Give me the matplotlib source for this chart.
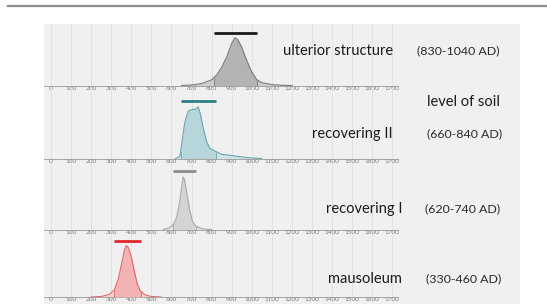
import matplotlib
matplotlib.use("Agg")
import matplotlib.pyplot as plt
from matplotlib.patches import Rectangle
from matplotlib.lines import Line2D

# ---------------- data ----------------
tick_values = list(range(0, 1800, 100))
tick_labels = [str(v) for v in tick_values]

phase_names = ["ulterior structure", "recovering II", "recovering I", "mausoleum"]
phase_dates = ["(830-1040 AD)", "(660-840 AD)", "(620-740 AD)", "(330-460 AD)"]
extra_label = "level of soil"

# relative probability curves (years AD, fraction of peak)
ulterior_x = [650, 700, 750, 800, 825, 850, 875, 900, 916, 930, 950, 975, 1000, 1025, 1050, 1100, 1150, 1200]
ulterior_y = [0.0, 0.01, 0.04, 0.12, 0.22, 0.38, 0.6, 0.88, 1.0, 0.96, 0.8, 0.52, 0.28, 0.12, 0.06, 0.02, 0.005, 0.0]

rec2_x = [620, 642, 655, 667, 684, 700, 709, 722, 733, 745, 758, 775, 791, 808, 824, 850, 874, 940, 1000, 1050]
rec2_y = [0.0, 0.04, 0.4, 0.71, 0.92, 0.94, 0.95, 0.95, 1.0, 0.84, 0.59, 0.32, 0.2, 0.16, 0.13, 0.08, 0.07, 0.035, 0.01, 0.0]

rec1_x = [560, 590, 610, 625, 640, 650, 658, 665, 675, 690, 705, 720, 740, 770, 800]
rec1_y = [0.0, 0.03, 0.1, 0.22, 0.5, 0.8, 1.0, 0.95, 0.72, 0.38, 0.15, 0.07, 0.03, 0.005, 0.0]

maus_x = [200, 250, 290, 316, 335, 350, 365, 375, 385, 400, 415, 430, 446, 470, 500, 550]
maus_y = [0.0, 0.01, 0.05, 0.14, 0.35, 0.62, 0.9, 1.0, 0.96, 0.78, 0.5, 0.25, 0.11, 0.04, 0.01, 0.0]

# highlighted ranges (bars above the curves), years AD
bar_ranges = [(811, 1027), (645, 823), (610, 724), (316, 446)]

curves = [(ulterior_x, ulterior_y), (rec2_x, rec2_y), (rec1_x, rec1_y), (maus_x, maus_y)]

# ---------------- styles / layout ----------------
W, H = 547, 304
fill_out = ["#cdcdcd", "#cfe3e7", "#e2e2e2", "#f8d0d0"]
fill_in = ["#b3b3b3", "#b6d6dc", "#d4d4d4", "#f3b2b4"]
edge_c = ["#7a7a7a", "#6aa7b2", "#a8a8a8", "#e06a6e"]
bar_c = ["#1a1a1a", "#2e7f89", "#8c8c8c", "#e2282c"]

# pixel layout: (axes top, baseline, peak, bar)
panels = [(24, 85.5, 37.7, 33.0),
          (88, 158.5, 106.7, 100.7),
          (163, 229.5, 177.0, 171.5),
          (234, 297.0, 245.5, 240.5)]
ax_left_px, ax_right_px = 43.6, 398.0
x0_px, px_per_year = 51.0, 0.2008
xmin = (ax_left_px - x0_px) / px_per_year
xmax = (ax_right_px - x0_px) / px_per_year

name_right = [393, 393, 402, 402]
name_y = [50.6, 134, 209, 279]
date_left = [417, 427, 425, 426]

font = ["Lato", "DejaVu Sans"]
bg = "#f0f0f0"

fig = plt.figure(figsize=(W / 100, H / 100), dpi=100)
fig.patch.set_facecolor("white")

# grey panel background
fig.patches.append(Rectangle((ax_left_px / W, 0), (520 - ax_left_px) / W, 1 - 24 / H,
                             transform=fig.transFigure, facecolor=bg, edgecolor="none", zorder=-10))
# top rule
fig.lines.append(Line2D([8 / W, 1.0], [1 - 6 / H, 1 - 6 / H], transform=fig.transFigure,
                        color="#8c8c8c", lw=1.6, zorder=-5))


def yat(xs, ys, v):
    for k in range(len(xs) - 1):
        if xs[k] <= v <= xs[k + 1]:
            t = (v - xs[k]) / (xs[k + 1] - xs[k])
            return ys[k] + t * (ys[k + 1] - ys[k])
    return 0.0


for i, (top, base, peak, bar) in enumerate(panels):
    ax = fig.add_axes([ax_left_px / W, 1 - base / H, (ax_right_px - ax_left_px) / W, (base - top) / H])
    ax.set_facecolor("none")
    ax.set_zorder(1)
    ymax = (base - top) / (base - peak)
    ax.set_xlim(xmin, xmax)
    ax.set_ylim(0, ymax)
    for v in tick_values:
        ax.axvline(v, color="#e2e2e2", lw=0.7, zorder=1)
    xs, ys = curves[i]
    ax.fill_between(xs, ys, 0, color=fill_out[i], lw=0, zorder=2)
    lo, hi = bar_ranges[i]
    xin = [lo] + [x for x in xs if lo < x < hi] + [hi]
    yin = [yat(xs, ys, x) for x in xin]
    ax.fill_between(xin, yin, 0, color=fill_in[i], lw=0, zorder=3)
    ax.vlines([lo, hi], 0, [yin[0], yin[-1]], color=edge_c[i], lw=0.6, zorder=4)
    ax.plot(xs, ys, color=edge_c[i], lw=0.8, zorder=4)
    bar_y = (base - bar) / (base - peak)
    ax.plot([lo, hi], [bar_y, bar_y], color=bar_c[i], lw=2.0, solid_capstyle="butt",
            zorder=5, clip_on=False)

    for s in ["top", "right", "left"]:
        ax.spines[s].set_visible(False)
    ax.spines["bottom"].set_linestyle((0, (1, 1)))
    ax.spines["bottom"].set_color("#9a9a9a")
    ax.spines["bottom"].set_linewidth(0.6)
    ax.set_yticks([])
    ax.set_xticks(tick_values)
    ax.set_xticklabels(tick_labels, fontsize=4.6, color="#7a7a7a", family=font)
    ax.tick_params(axis="x", length=0, pad=0.3)

    fig.text(name_right[i] / W, 1 - name_y[i] / H, phase_names[i], ha="right", va="center",
             fontsize=10.5, color="#1a1a1a", family=font, zorder=3)
    fig.text(date_left[i] / W, 1 - name_y[i] / H, phase_dates[i], ha="left", va="center",
             fontsize=8.9, color="#2a2a2a", family=font, zorder=3)

fig.text(427 / W, 1 - 101.6 / H, extra_label, ha="left", va="center",
         fontsize=10.5, color="#1a1a1a", family=font, zorder=3)

fig.savefig("out.png", dpi=100, facecolor="white")
